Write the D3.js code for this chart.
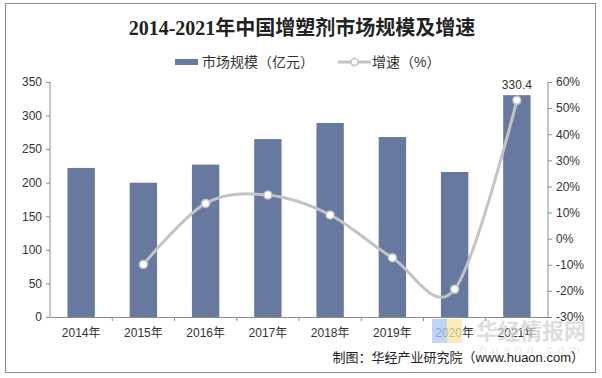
<!DOCTYPE html>
<html>
<head>
<meta charset="utf-8">
<script src="https://cdn.jsdelivr.net/npm/d3@7"></script>
<style>
  body { margin: 0; background: #fff; }
  svg text { font-family: "Liberation Sans", Arial, "Noto Sans CJK SC", sans-serif; }
</style>
</head>
<body>
<div id="chart"></div>
<script>
// data
var years = ["2014年", "2015年", "2016年", "2017年", "2018年", "2019年", "2020年", "2021年"];
var marketSize = [222, 200, 227, 265, 289, 268, 216, 330.4]; // 亿元
var growthYears = ["2015年", "2016年", "2017年", "2018年", "2019年", "2020年", "2021年"];
var growth = [-9.9, 13.5, 16.7, 9.1, -7.3, -19.4, 53.0]; // %
var leftTicks = [0, 50, 100, 150, 200, 250, 300, 350];
var rightTicks = [-30, -20, -10, 0, 10, 20, 30, 40, 50, 60];

var W = 602, H = 378;
var margin = { top: 82, right: 54, bottom: 61, left: 50 };
var width = W - margin.left - margin.right,
  height = H - margin.top - margin.bottom;

var svg = d3
  .select("#chart")
  .append("svg")
  .attr("width", W)
  .attr("height", H);

// outer frame
svg
  .append("rect")
  .attr("x", 5.5)
  .attr("y", 3.5)
  .attr("width", 590)
  .attr("height", 369)
  .attr("fill", "#fff")
  .attr("stroke", "#8c8c8c");

// title
svg
  .append("text")
  .attr("x", 302)
  .attr("y", 35)
  .attr("text-anchor", "middle")
  .style("font-family", '"Liberation Serif", "Noto Sans CJK SC", serif')
  .style("font-size", "20px")
  .style("font-weight", "bold")
  .attr("fill", "#222")
  .text("2014-2021年中国增塑剂市场规模及增速");

var g = svg
  .append("g")
  .attr("transform", "translate(" + margin.left + "," + margin.top + ")");

var x = d3.scaleBand().domain(years).range([0, width]).paddingInner(0.56).paddingOuter(0.28);
var band = d3.scaleBand().domain(years).range([0, width]);
var yL = d3.scaleLinear().domain([0, 350]).range([height, 0]);
var yR = d3.scaleLinear().domain([-30, 60]).range([height, 0]);

// watermark logo (behind)
var wm = svg.append("g").attr("opacity", 0.75);
wm.append("rect").attr("x", 432).attr("y", 319).attr("width", 15).attr("height", 24).attr("fill", "#a9c9f2");
wm.append("rect").attr("x", 447).attr("y", 319).attr("width", 15).attr("height", 24).attr("fill", "#fbe7a1");
wm.append("text")
  .attr("x", 476)
  .attr("y", 339)
  .style("font-family", '"Noto Sans CJK SC", sans-serif')
  .style("font-size", "22px")
  .style("font-weight", "bold")
  .attr("fill", "#d2d2d2")
  .text("华经情报网");
wm.append("text")
  .attr("x", 480)
  .attr("y", 354)
  .style("font-size", "12px")
  .style("letter-spacing", "5px")
  .attr("fill", "#e4e4e4")
  .text("huaon.com");

// bars
g.selectAll("rect.bar")
  .data(years)
  .join("rect")
  .attr("class", "bar")
  .attr("x", (d) => x(d))
  .attr("y", (d, i) => yL(marketSize[i]))
  .attr("width", x.bandwidth())
  .attr("height", (d, i) => height - yL(marketSize[i]))
  .attr("fill", "#67799f");

// label on last bar
var last = years.length - 1;
g.append("text")
  .attr("x", x(years[last]) + x.bandwidth() / 2)
  .attr("y", yL(marketSize[last]) - 6)
  .attr("text-anchor", "middle")
  .style("font-size", "12px")
  .attr("fill", "#333")
  .text(marketSize[last]);

// axes
var axisColor = "#8c8c8c";
var leftAxis = g
  .append("g")
  .call(d3.axisLeft(yL).tickValues(leftTicks).tickSize(4).tickPadding(4));
var rightAxis = g
  .append("g")
  .attr("transform", "translate(" + width + ",0)")
  .call(
    d3.axisRight(yR).tickValues(rightTicks).tickSize(4).tickPadding(4)
      .tickFormat((d) => d + "%")
  );
var bottomAxis = g
  .append("g")
  .attr("transform", "translate(0," + height + ")")
  .call(d3.axisBottom(band).tickSize(0).tickPadding(11));

// category boundary ticks
g.append("g")
  .selectAll("line")
  .data(years.slice(1))
  .join("line")
  .attr("x1", (d) => band(d))
  .attr("x2", (d) => band(d))
  .attr("y1", height)
  .attr("y2", height + 4)
  .attr("stroke", axisColor);

[leftAxis, rightAxis, bottomAxis].forEach(function (a) {
  a.select(".domain").attr("stroke", axisColor);
  a.selectAll(".tick line").attr("stroke", axisColor);
  a.selectAll("text")
    .style("font-size", "12px")
    .attr("fill", "#333");
});
leftAxis.select(".domain").attr("d", "M0,0V" + height);
rightAxis.select(".domain").attr("d", "M0,0V" + height);

// growth line (Excel-style smoothing)
var line = d3
  .line()
  .x((d, i) => band(growthYears[i]) + band.bandwidth() / 2)
  .y((d) => yR(d))
  .curve(d3.curveCatmullRom.alpha(0));

g.append("path")
  .datum(growth)
  .attr("d", line)
  .attr("fill", "none")
  .attr("stroke", "#c3c3c3")
  .attr("stroke-width", 3);

g.selectAll("circle.pt")
  .data(growth)
  .join("circle")
  .attr("class", "pt")
  .attr("cx", (d, i) => band(growthYears[i]) + band.bandwidth() / 2)
  .attr("cy", (d) => yR(d))
  .attr("r", 4)
  .attr("fill", "#fff")
  .attr("stroke", "#c3c3c3")
  .attr("stroke-width", 1.5);

// legend
var lg = svg.append("g").attr("transform", "translate(0,62)");
lg.append("rect")
  .attr("x", 175)
  .attr("y", -3)
  .attr("width", 23)
  .attr("height", 6)
  .attr("fill", "#67799f");
lg.append("text")
  .attr("x", 202)
  .attr("y", 5)
  .style("font-size", "14px")
  .attr("fill", "#333")
  .text("市场规模（亿元）");
lg.append("line")
  .attr("x1", 338)
  .attr("x2", 371)
  .attr("y1", 0)
  .attr("y2", 0)
  .attr("stroke", "#c3c3c3")
  .attr("stroke-width", 3);
lg.append("circle")
  .attr("cx", 354.5)
  .attr("cy", 0)
  .attr("r", 3.5)
  .attr("fill", "#fff")
  .attr("stroke", "#c3c3c3")
  .attr("stroke-width", 1.5);
lg.append("text")
  .attr("x", 372)
  .attr("y", 5)
  .style("font-size", "14px")
  .attr("fill", "#333")
  .text("增速（%）");

// source
svg
  .append("text")
  .attr("x", 584)
  .attr("y", 362)
  .attr("text-anchor", "end")
  .style("font-size", "13px")
  .attr("fill", "#222")
  .text("制图：华经产业研究院（www.huaon.com）");
</script>
</body>
</html>
